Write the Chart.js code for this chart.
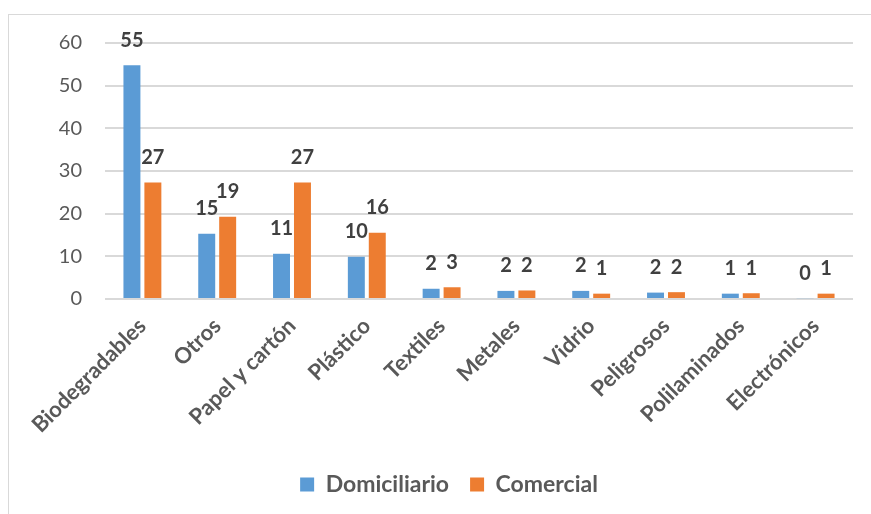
<!DOCTYPE html>
<html>
<head>
<meta charset="utf-8">
<script src="https://cdn.jsdelivr.net/npm/chart.js@4/dist/chart.umd.min.js"></script>
<style>
  html, body { margin: 0; padding: 0; background: #fff; }
  body { width: 871px; height: 514px; overflow: hidden; position: relative; }
  #frame { position: absolute; left: 8px; top: 14px; width: 880px; height: 520px;
           border-left: 1px solid #d9d9d9; border-top: 1px solid #d9d9d9; }
  #wrap { position: absolute; left: 0; top: 0; width: 862px; height: 499px; }
</style>
</head>
<body>
<div id="frame"><div id="wrap"><canvas id="c"></canvas></div></div>
<script>
const categories = ["Biodegradables", "Otros", "Papel y cartón", "Plástico", "Textiles",
                    "Metales", "Vidrio", "Peligrosos", "Polilaminados", "Electrónicos"];
const domiciliario = [54.8, 15.3, 10.6, 9.9, 2.4, 1.9, 1.9, 1.5, 1.25, 0.2];
const comercial    = [27.3, 19.3, 27.3, 15.5, 2.75, 2.0, 1.25, 1.6, 1.35, 1.25];
const yTicks = [0, 10, 20, 30, 40, 50, 60];

const FONT = "Lato, 'Open Sans', sans-serif";

const barLabels = {
  id: 'barLabels',
  afterDatasetsDraw(chart) {
    const ctx = chart.ctx;
    ctx.save();
    ctx.font = "bold 20px " + FONT;
    ctx.fillStyle = "#404040";
    ctx.textAlign = "center";
    ctx.textBaseline = "bottom";
    chart.data.datasets.forEach((ds, i) => {
      const meta = chart.getDatasetMeta(i);
      meta.data.forEach((el, j) => {
        ctx.fillText(String(Math.round(ds.data[j])), el.x, el.y - 15);
      });
    });
    ctx.restore();
  }
};

const legendShift = {
  id: 'legendShift',
  afterLayout(chart) {
    if (chart.legend) { chart.legend.left += 13; chart.legend.right += 13; }
  }
};

new Chart(document.getElementById('c'), {
  type: 'bar',
  data: {
    labels: categories,
    datasets: [
      { label: 'Domiciliario', data: domiciliario, backgroundColor: '#5B9BD5',
        categoryPercentage: 0.56, barPercentage: 0.81 },
      { label: 'Comercial', data: comercial, backgroundColor: '#ED7D31',
        categoryPercentage: 0.56, barPercentage: 0.81 }
    ]
  },
  options: {
    responsive: true,
    maintainAspectRatio: false,
    animation: false,
    layout: { padding: { left: 10, right: 18, top: 10, bottom: 8 } },
    plugins: {
      legend: {
        position: 'bottom',
        labels: {
          font: { family: FONT, size: 23, weight: 'bold' },
          color: '#595959',
          boxWidth: 14, boxHeight: 14, padding: 21
        }
      },
      tooltip: { enabled: false }
    },
    scales: {
      x: {
        grid: { display: false },
        border: { display: false },
        afterFit(axis) { axis.height = 153; },
        ticks: {
          minRotation: 45, maxRotation: 45, padding: 6,
          font: { family: FONT, size: 22, weight: 'bold' },
          color: '#595959'
        }
      },
      y: {
        min: 0, max: 60,
        afterBuildTicks(axis) { axis.ticks = yTicks.map(v => ({ value: v })); },
        afterFit(axis) { axis.width = 86; axis.paddingTop = 28; axis.paddingBottom = 12; },
        grid: { color: '#d9d9d9', lineWidth: 2, drawTicks: false },
        border: { display: false },
        ticks: {
          padding: 23,
          font: { family: FONT, size: 20 },
          color: '#595959'
        }
      }
    }
  },
  plugins: [barLabels, legendShift]
});
</script>
</body>
</html>
